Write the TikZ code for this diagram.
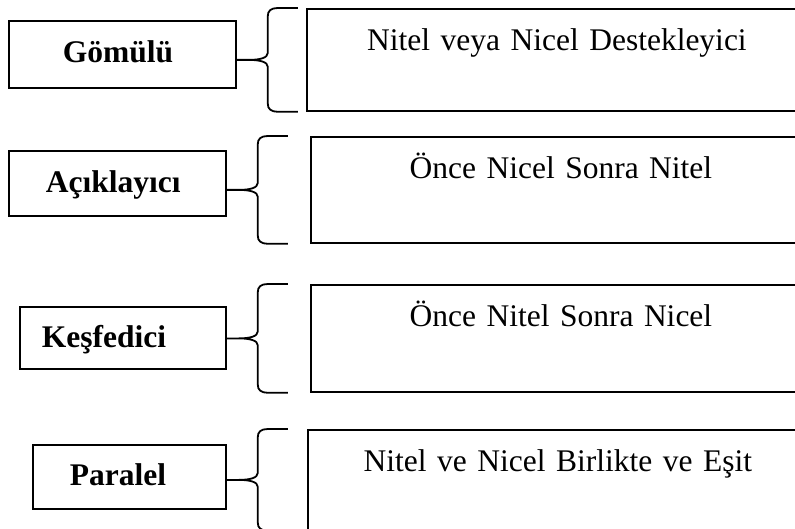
\documentclass[tikz,border=0pt]{standalone}
\usepackage{fontspec}
\setmainfont{Liberation Serif}
\usetikzlibrary{calc}

\tikzset{
  every node/.style={font=\fontsize{31.5}{38}\selectfont},
  % category box on the left, label set from its left edge
  lbox/.style n args={4}{draw, line width=1.8pt, inner sep=0pt, anchor=north west,
    text width=#1, text height=#2, text depth=#3, align=left,
    execute at begin node={\hspace*{#4}\bfseries}},
  % description box on the right, text near its top
  rbox/.style={draw, line width=1.8pt, inner sep=0pt, anchor=north west,
    text width=500pt, align=center, text height=42pt, text depth=#1},
  bracket/.style={draw, line width=1.8pt, line join=round}
}

% curly bracket from a category box to its description box
\newcommand\curlyjoin[2]{%
  \path[bracket] let \p1=(#1.east |- #2.west), \p2=(#2.north), \p3=(#2.south) in
    (\x1+61pt,\y2) -- (\x1+41pt,\y2)
      .. controls (\x1+34pt,\y2) and (\x1+31pt,\y2-3pt) .. (\x1+31pt,\y2-8pt)
      -- (\x1+31pt,\y1+7pt)
      .. controls (\x1+31pt,\y1+2pt) and (\x1+23pt,\y1) .. (\x1+12pt,\y1)
      -- (\x1,\y1)
    (\x1+12pt,\y1)
      .. controls (\x1+23pt,\y1) and (\x1+31pt,\y1-2pt) .. (\x1+31pt,\y1-7pt)
      -- (\x1+31pt,\y3+8pt)
      .. controls (\x1+31pt,\y3+3pt) and (\x1+34pt,\y3) .. (\x1+41pt,\y3)
      -- (\x1+61pt,\y3);
}

\begin{document}
\begin{tikzpicture}[x=1pt, y=-1pt]
  \clip (0,0) rectangle (795,529);
  \fill[white] (0,0) rectangle (795,529);

  % categories
  \node[lbox={227pt}{42pt}{25pt}{54pt}] (L1) at (8,20)  {Gömülü};
  \node[lbox={217pt}{42pt}{23pt}{37pt}] (L2) at (8,150) {Açıklayıcı};
  \node[lbox={206pt}{41pt}{21pt}{22pt}] (L3) at (19,306) {Keşfedici};
  \node[lbox={193pt}{41pt}{23pt}{37pt}] (L4) at (32,444) {Paralel};

  % descriptions
  \node[rbox=60pt] (R1) at (306,8)   {Nitel veya Nicel Destekleyici};
  \node[rbox=64pt] (R2) at (310,136) {Önce Nicel Sonra Nitel};
  \node[rbox=65pt] (R3) at (310,284) {Önce Nitel Sonra Nicel};
  \node[rbox=58pt] (R4) at (307,429) {Nitel ve Nicel Birlikte ve Eşit};

  % brackets
  \curlyjoin{L1}{R1}
  \curlyjoin{L2}{R2}
  \curlyjoin{L3}{R3}
  \curlyjoin{L4}{R4}
\end{tikzpicture}
\end{document}
